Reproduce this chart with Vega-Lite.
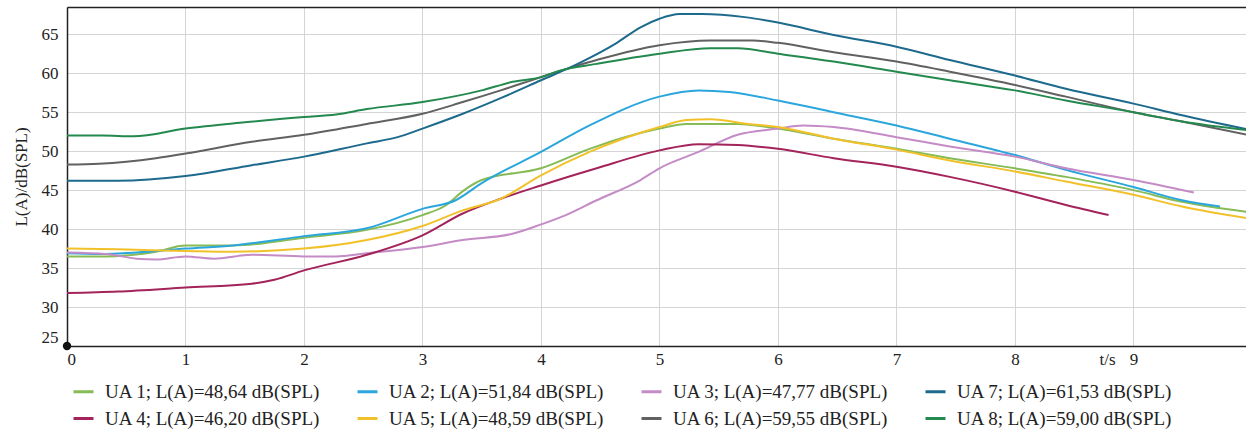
{
  "$schema": "https://vega.github.io/schema/vega-lite/v6.json",
  "autosize": "none",
  "padding": {"left": 67, "top": 7, "right": 0, "bottom": 90},
  "width": 1179,
  "height": 339,
  "background": "white",
  "config": {
    "view": {"stroke": null},
    "font": "Liberation Serif",
    "axis": {"labelFont": "Liberation Serif", "titleFont": "Liberation Serif", "labelFontSize": 17, "titleFontSize": 17, "titleFontWeight": "normal", "labelColor": "#222", "titleColor": "#222", "gridColor": "#d4d4d4", "gridWidth": 1, "domainColor": "#222", "domainWidth": 1.5, "ticks": false},
    "legend": {"labelFont": "Liberation Serif", "labelFontSize": 19, "labelColor": "#222", "labelLimit": 400}
  },
  "datasets": {
    "curves": [
      {"s": "UA 1; L(A)=48,64 dB(SPL)", "t": 0, "L": 36.5}, {"s": "UA 1; L(A)=48,64 dB(SPL)", "t": 0.33, "L": 36.5}, {"s": "UA 1; L(A)=48,64 dB(SPL)", "t": 0.75, "L": 37.1}, {"s": "UA 1; L(A)=48,64 dB(SPL)", "t": 1.0, "L": 37.9}, {"s": "UA 1; L(A)=48,64 dB(SPL)", "t": 1.4, "L": 37.9}, {"s": "UA 1; L(A)=48,64 dB(SPL)", "t": 2.0, "L": 38.9}, {"s": "UA 1; L(A)=48,64 dB(SPL)", "t": 2.53, "L": 39.9}, {"s": "UA 1; L(A)=48,64 dB(SPL)", "t": 3.0, "L": 41.8}, {"s": "UA 1; L(A)=48,64 dB(SPL)", "t": 3.18, "L": 42.9}, {"s": "UA 1; L(A)=48,64 dB(SPL)", "t": 3.37, "L": 45.2}, {"s": "UA 1; L(A)=48,64 dB(SPL)", "t": 3.5, "L": 46.3}, {"s": "UA 1; L(A)=48,64 dB(SPL)", "t": 4.0, "L": 47.8}, {"s": "UA 1; L(A)=48,64 dB(SPL)", "t": 4.41, "L": 50.3}, {"s": "UA 1; L(A)=48,64 dB(SPL)", "t": 5.0, "L": 52.9}, {"s": "UA 1; L(A)=48,64 dB(SPL)", "t": 5.23, "L": 53.5}, {"s": "UA 1; L(A)=48,64 dB(SPL)", "t": 5.66, "L": 53.5}, {"s": "UA 1; L(A)=48,64 dB(SPL)", "t": 6.0, "L": 52.9}, {"s": "UA 1; L(A)=48,64 dB(SPL)", "t": 6.47, "L": 51.6}, {"s": "UA 1; L(A)=48,64 dB(SPL)", "t": 7.0, "L": 50.3}, {"s": "UA 1; L(A)=48,64 dB(SPL)", "t": 7.45, "L": 49.1}, {"s": "UA 1; L(A)=48,64 dB(SPL)", "t": 8.0, "L": 47.8}, {"s": "UA 1; L(A)=48,64 dB(SPL)", "t": 8.43, "L": 46.7}, {"s": "UA 1; L(A)=48,64 dB(SPL)", "t": 9.0, "L": 45.0}, {"s": "UA 1; L(A)=48,64 dB(SPL)", "t": 9.41, "L": 43.5}, {"s": "UA 1; L(A)=48,64 dB(SPL)", "t": 9.96, "L": 42.2},

      {"s": "UA 2; L(A)=51,84 dB(SPL)", "t": 0, "L": 36.9}, {"s": "UA 2; L(A)=51,84 dB(SPL)", "t": 0.27, "L": 36.8}, {"s": "UA 2; L(A)=51,84 dB(SPL)", "t": 0.59, "L": 37.0}, {"s": "UA 2; L(A)=51,84 dB(SPL)", "t": 1.0, "L": 37.5}, {"s": "UA 2; L(A)=51,84 dB(SPL)", "t": 1.4, "L": 37.9}, {"s": "UA 2; L(A)=51,84 dB(SPL)", "t": 2.0, "L": 39.1}, {"s": "UA 2; L(A)=51,84 dB(SPL)", "t": 2.53, "L": 40.1}, {"s": "UA 2; L(A)=51,84 dB(SPL)", "t": 3.0, "L": 42.6}, {"s": "UA 2; L(A)=51,84 dB(SPL)", "t": 3.28, "L": 43.7}, {"s": "UA 2; L(A)=51,84 dB(SPL)", "t": 3.5, "L": 45.9}, {"s": "UA 2; L(A)=51,84 dB(SPL)", "t": 4.0, "L": 49.9}, {"s": "UA 2; L(A)=51,84 dB(SPL)", "t": 4.41, "L": 53.3}, {"s": "UA 2; L(A)=51,84 dB(SPL)", "t": 5.0, "L": 57.0}, {"s": "UA 2; L(A)=51,84 dB(SPL)", "t": 5.33, "L": 57.8}, {"s": "UA 2; L(A)=51,84 dB(SPL)", "t": 5.59, "L": 57.6}, {"s": "UA 2; L(A)=51,84 dB(SPL)", "t": 6.0, "L": 56.5}, {"s": "UA 2; L(A)=51,84 dB(SPL)", "t": 6.47, "L": 55.0}, {"s": "UA 2; L(A)=51,84 dB(SPL)", "t": 7.0, "L": 53.3}, {"s": "UA 2; L(A)=51,84 dB(SPL)", "t": 7.45, "L": 51.6}, {"s": "UA 2; L(A)=51,84 dB(SPL)", "t": 8.0, "L": 49.5}, {"s": "UA 2; L(A)=51,84 dB(SPL)", "t": 8.43, "L": 47.6}, {"s": "UA 2; L(A)=51,84 dB(SPL)", "t": 9.0, "L": 45.4}, {"s": "UA 2; L(A)=51,84 dB(SPL)", "t": 9.41, "L": 43.7}, {"s": "UA 2; L(A)=51,84 dB(SPL)", "t": 9.73, "L": 42.9},

      {"s": "UA 3; L(A)=47,77 dB(SPL)", "t": 0, "L": 37.0}, {"s": "UA 3; L(A)=47,77 dB(SPL)", "t": 0.33, "L": 36.8}, {"s": "UA 3; L(A)=47,77 dB(SPL)", "t": 0.59, "L": 36.2}, {"s": "UA 3; L(A)=47,77 dB(SPL)", "t": 0.75, "L": 36.1}, {"s": "UA 3; L(A)=47,77 dB(SPL)", "t": 1.0, "L": 36.5}, {"s": "UA 3; L(A)=47,77 dB(SPL)", "t": 1.24, "L": 36.2}, {"s": "UA 3; L(A)=47,77 dB(SPL)", "t": 1.56, "L": 36.7}, {"s": "UA 3; L(A)=47,77 dB(SPL)", "t": 2.0, "L": 36.5}, {"s": "UA 3; L(A)=47,77 dB(SPL)", "t": 2.27, "L": 36.5}, {"s": "UA 3; L(A)=47,77 dB(SPL)", "t": 2.53, "L": 36.9}, {"s": "UA 3; L(A)=47,77 dB(SPL)", "t": 3.0, "L": 37.7}, {"s": "UA 3; L(A)=47,77 dB(SPL)", "t": 3.34, "L": 38.6}, {"s": "UA 3; L(A)=47,77 dB(SPL)", "t": 3.76, "L": 39.4}, {"s": "UA 3; L(A)=47,77 dB(SPL)", "t": 4.0, "L": 40.6}, {"s": "UA 3; L(A)=47,77 dB(SPL)", "t": 4.21, "L": 41.8}, {"s": "UA 3; L(A)=47,77 dB(SPL)", "t": 4.47, "L": 43.7}, {"s": "UA 3; L(A)=47,77 dB(SPL)", "t": 4.84, "L": 46.3}, {"s": "UA 3; L(A)=47,77 dB(SPL)", "t": 5.0, "L": 47.8}, {"s": "UA 3; L(A)=47,77 dB(SPL)", "t": 5.33, "L": 49.9}, {"s": "UA 3; L(A)=47,77 dB(SPL)", "t": 5.66, "L": 52.1}, {"s": "UA 3; L(A)=47,77 dB(SPL)", "t": 6.0, "L": 52.9}, {"s": "UA 3; L(A)=47,77 dB(SPL)", "t": 6.21, "L": 53.3}, {"s": "UA 3; L(A)=47,77 dB(SPL)", "t": 6.47, "L": 53.1}, {"s": "UA 3; L(A)=47,77 dB(SPL)", "t": 7.0, "L": 51.8}, {"s": "UA 3; L(A)=47,77 dB(SPL)", "t": 7.45, "L": 50.6}, {"s": "UA 3; L(A)=47,77 dB(SPL)", "t": 8.0, "L": 49.3}, {"s": "UA 3; L(A)=47,77 dB(SPL)", "t": 8.43, "L": 47.8}, {"s": "UA 3; L(A)=47,77 dB(SPL)", "t": 9.0, "L": 46.3}, {"s": "UA 3; L(A)=47,77 dB(SPL)", "t": 9.51, "L": 44.7},

      {"s": "UA 4; L(A)=46,20 dB(SPL)", "t": 0, "L": 31.8}, {"s": "UA 4; L(A)=46,20 dB(SPL)", "t": 0.43, "L": 32.0}, {"s": "UA 4; L(A)=46,20 dB(SPL)", "t": 1.0, "L": 32.5}, {"s": "UA 4; L(A)=46,20 dB(SPL)", "t": 1.56, "L": 33.0}, {"s": "UA 4; L(A)=46,20 dB(SPL)", "t": 1.75, "L": 33.5}, {"s": "UA 4; L(A)=46,20 dB(SPL)", "t": 2.0, "L": 34.7}, {"s": "UA 4; L(A)=46,20 dB(SPL)", "t": 2.53, "L": 36.7}, {"s": "UA 4; L(A)=46,20 dB(SPL)", "t": 3.0, "L": 39.2}, {"s": "UA 4; L(A)=46,20 dB(SPL)", "t": 3.34, "L": 42.0}, {"s": "UA 4; L(A)=46,20 dB(SPL)", "t": 3.66, "L": 43.9}, {"s": "UA 4; L(A)=46,20 dB(SPL)", "t": 4.0, "L": 45.6}, {"s": "UA 4; L(A)=46,20 dB(SPL)", "t": 4.47, "L": 47.8}, {"s": "UA 4; L(A)=46,20 dB(SPL)", "t": 5.0, "L": 50.1}, {"s": "UA 4; L(A)=46,20 dB(SPL)", "t": 5.33, "L": 50.9}, {"s": "UA 4; L(A)=46,20 dB(SPL)", "t": 5.66, "L": 50.8}, {"s": "UA 4; L(A)=46,20 dB(SPL)", "t": 6.0, "L": 50.3}, {"s": "UA 4; L(A)=46,20 dB(SPL)", "t": 6.47, "L": 49.1}, {"s": "UA 4; L(A)=46,20 dB(SPL)", "t": 7.0, "L": 48.0}, {"s": "UA 4; L(A)=46,20 dB(SPL)", "t": 7.45, "L": 46.7}, {"s": "UA 4; L(A)=46,20 dB(SPL)", "t": 8.0, "L": 44.8}, {"s": "UA 4; L(A)=46,20 dB(SPL)", "t": 8.43, "L": 43.1}, {"s": "UA 4; L(A)=46,20 dB(SPL)", "t": 8.79, "L": 41.8},

      {"s": "UA 5; L(A)=48,59 dB(SPL)", "t": 0, "L": 37.5}, {"s": "UA 5; L(A)=48,59 dB(SPL)", "t": 0.43, "L": 37.4}, {"s": "UA 5; L(A)=48,59 dB(SPL)", "t": 1.0, "L": 37.2}, {"s": "UA 5; L(A)=48,59 dB(SPL)", "t": 1.4, "L": 37.1}, {"s": "UA 5; L(A)=48,59 dB(SPL)", "t": 2.0, "L": 37.5}, {"s": "UA 5; L(A)=48,59 dB(SPL)", "t": 2.53, "L": 38.6}, {"s": "UA 5; L(A)=48,59 dB(SPL)", "t": 3.0, "L": 40.4}, {"s": "UA 5; L(A)=48,59 dB(SPL)", "t": 3.34, "L": 42.4}, {"s": "UA 5; L(A)=48,59 dB(SPL)", "t": 3.66, "L": 43.9}, {"s": "UA 5; L(A)=48,59 dB(SPL)", "t": 4.0, "L": 46.9}, {"s": "UA 5; L(A)=48,59 dB(SPL)", "t": 4.41, "L": 49.9}, {"s": "UA 5; L(A)=48,59 dB(SPL)", "t": 5.0, "L": 53.1}, {"s": "UA 5; L(A)=48,59 dB(SPL)", "t": 5.23, "L": 54.0}, {"s": "UA 5; L(A)=48,59 dB(SPL)", "t": 5.43, "L": 54.1}, {"s": "UA 5; L(A)=48,59 dB(SPL)", "t": 5.75, "L": 53.5}, {"s": "UA 5; L(A)=48,59 dB(SPL)", "t": 6.0, "L": 53.1}, {"s": "UA 5; L(A)=48,59 dB(SPL)", "t": 6.47, "L": 51.6}, {"s": "UA 5; L(A)=48,59 dB(SPL)", "t": 7.0, "L": 50.2}, {"s": "UA 5; L(A)=48,59 dB(SPL)", "t": 7.45, "L": 48.8}, {"s": "UA 5; L(A)=48,59 dB(SPL)", "t": 8.0, "L": 47.4}, {"s": "UA 5; L(A)=48,59 dB(SPL)", "t": 8.43, "L": 46.1}, {"s": "UA 5; L(A)=48,59 dB(SPL)", "t": 9.0, "L": 44.4}, {"s": "UA 5; L(A)=48,59 dB(SPL)", "t": 9.41, "L": 42.9}, {"s": "UA 5; L(A)=48,59 dB(SPL)", "t": 9.96, "L": 41.4},

      {"s": "UA 6; L(A)=59,55 dB(SPL)", "t": 0, "L": 48.3}, {"s": "UA 6; L(A)=59,55 dB(SPL)", "t": 0.27, "L": 48.4}, {"s": "UA 6; L(A)=59,55 dB(SPL)", "t": 0.75, "L": 49.1}, {"s": "UA 6; L(A)=59,55 dB(SPL)", "t": 1.0, "L": 49.7}, {"s": "UA 6; L(A)=59,55 dB(SPL)", "t": 1.56, "L": 51.2}, {"s": "UA 6; L(A)=59,55 dB(SPL)", "t": 2.0, "L": 52.1}, {"s": "UA 6; L(A)=59,55 dB(SPL)", "t": 2.53, "L": 53.5}, {"s": "UA 6; L(A)=59,55 dB(SPL)", "t": 3.0, "L": 54.8}, {"s": "UA 6; L(A)=59,55 dB(SPL)", "t": 3.34, "L": 56.3}, {"s": "UA 6; L(A)=59,55 dB(SPL)", "t": 3.66, "L": 57.8}, {"s": "UA 6; L(A)=59,55 dB(SPL)", "t": 4.0, "L": 59.5}, {"s": "UA 6; L(A)=59,55 dB(SPL)", "t": 4.47, "L": 61.7}, {"s": "UA 6; L(A)=59,55 dB(SPL)", "t": 5.0, "L": 63.6}, {"s": "UA 6; L(A)=59,55 dB(SPL)", "t": 5.43, "L": 64.2}, {"s": "UA 6; L(A)=59,55 dB(SPL)", "t": 5.79, "L": 64.2}, {"s": "UA 6; L(A)=59,55 dB(SPL)", "t": 6.0, "L": 63.9}, {"s": "UA 6; L(A)=59,55 dB(SPL)", "t": 6.47, "L": 62.7}, {"s": "UA 6; L(A)=59,55 dB(SPL)", "t": 7.0, "L": 61.5}, {"s": "UA 6; L(A)=59,55 dB(SPL)", "t": 7.45, "L": 60.2}, {"s": "UA 6; L(A)=59,55 dB(SPL)", "t": 8.0, "L": 58.5}, {"s": "UA 6; L(A)=59,55 dB(SPL)", "t": 8.43, "L": 57.0}, {"s": "UA 6; L(A)=59,55 dB(SPL)", "t": 9.0, "L": 55.0}, {"s": "UA 6; L(A)=59,55 dB(SPL)", "t": 9.41, "L": 53.8}, {"s": "UA 6; L(A)=59,55 dB(SPL)", "t": 9.96, "L": 52.1},

      {"s": "UA 7; L(A)=61,53 dB(SPL)", "t": 0, "L": 46.2}, {"s": "UA 7; L(A)=61,53 dB(SPL)", "t": 0.43, "L": 46.2}, {"s": "UA 7; L(A)=61,53 dB(SPL)", "t": 1.0, "L": 46.8}, {"s": "UA 7; L(A)=61,53 dB(SPL)", "t": 1.56, "L": 48.2}, {"s": "UA 7; L(A)=61,53 dB(SPL)", "t": 2.0, "L": 49.3}, {"s": "UA 7; L(A)=61,53 dB(SPL)", "t": 2.53, "L": 51.0}, {"s": "UA 7; L(A)=61,53 dB(SPL)", "t": 2.79, "L": 51.8}, {"s": "UA 7; L(A)=61,53 dB(SPL)", "t": 3.0, "L": 52.9}, {"s": "UA 7; L(A)=61,53 dB(SPL)", "t": 3.34, "L": 54.8}, {"s": "UA 7; L(A)=61,53 dB(SPL)", "t": 3.66, "L": 56.8}, {"s": "UA 7; L(A)=61,53 dB(SPL)", "t": 4.0, "L": 59.1}, {"s": "UA 7; L(A)=61,53 dB(SPL)", "t": 4.31, "L": 61.2}, {"s": "UA 7; L(A)=61,53 dB(SPL)", "t": 4.63, "L": 63.8}, {"s": "UA 7; L(A)=61,53 dB(SPL)", "t": 4.84, "L": 65.9}, {"s": "UA 7; L(A)=61,53 dB(SPL)", "t": 5.0, "L": 67.0}, {"s": "UA 7; L(A)=61,53 dB(SPL)", "t": 5.17, "L": 67.6}, {"s": "UA 7; L(A)=61,53 dB(SPL)", "t": 5.36, "L": 67.6}, {"s": "UA 7; L(A)=61,53 dB(SPL)", "t": 5.72, "L": 67.2}, {"s": "UA 7; L(A)=61,53 dB(SPL)", "t": 6.0, "L": 66.5}, {"s": "UA 7; L(A)=61,53 dB(SPL)", "t": 6.47, "L": 64.9}, {"s": "UA 7; L(A)=61,53 dB(SPL)", "t": 7.0, "L": 63.4}, {"s": "UA 7; L(A)=61,53 dB(SPL)", "t": 7.45, "L": 61.7}, {"s": "UA 7; L(A)=61,53 dB(SPL)", "t": 8.0, "L": 59.7}, {"s": "UA 7; L(A)=61,53 dB(SPL)", "t": 8.43, "L": 58.0}, {"s": "UA 7; L(A)=61,53 dB(SPL)", "t": 9.0, "L": 56.1}, {"s": "UA 7; L(A)=61,53 dB(SPL)", "t": 9.41, "L": 54.6}, {"s": "UA 7; L(A)=61,53 dB(SPL)", "t": 9.96, "L": 52.8},

      {"s": "UA 8; L(A)=59,00 dB(SPL)", "t": 0, "L": 52.0}, {"s": "UA 8; L(A)=59,00 dB(SPL)", "t": 0.3, "L": 52.0}, {"s": "UA 8; L(A)=59,00 dB(SPL)", "t": 0.56, "L": 51.9}, {"s": "UA 8; L(A)=59,00 dB(SPL)", "t": 1.0, "L": 52.9}, {"s": "UA 8; L(A)=59,00 dB(SPL)", "t": 1.5, "L": 53.7}, {"s": "UA 8; L(A)=59,00 dB(SPL)", "t": 2.0, "L": 54.4}, {"s": "UA 8; L(A)=59,00 dB(SPL)", "t": 2.27, "L": 54.7}, {"s": "UA 8; L(A)=59,00 dB(SPL)", "t": 2.53, "L": 55.4}, {"s": "UA 8; L(A)=59,00 dB(SPL)", "t": 3.0, "L": 56.3}, {"s": "UA 8; L(A)=59,00 dB(SPL)", "t": 3.5, "L": 57.8}, {"s": "UA 8; L(A)=59,00 dB(SPL)", "t": 3.76, "L": 58.9}, {"s": "UA 8; L(A)=59,00 dB(SPL)", "t": 4.0, "L": 59.5}, {"s": "UA 8; L(A)=59,00 dB(SPL)", "t": 4.15, "L": 60.3}, {"s": "UA 8; L(A)=59,00 dB(SPL)", "t": 4.47, "L": 61.2}, {"s": "UA 8; L(A)=59,00 dB(SPL)", "t": 5.0, "L": 62.5}, {"s": "UA 8; L(A)=59,00 dB(SPL)", "t": 5.43, "L": 63.2}, {"s": "UA 8; L(A)=59,00 dB(SPL)", "t": 5.66, "L": 63.2}, {"s": "UA 8; L(A)=59,00 dB(SPL)", "t": 6.0, "L": 62.5}, {"s": "UA 8; L(A)=59,00 dB(SPL)", "t": 6.47, "L": 61.5}, {"s": "UA 8; L(A)=59,00 dB(SPL)", "t": 7.0, "L": 60.2}, {"s": "UA 8; L(A)=59,00 dB(SPL)", "t": 7.45, "L": 59.1}, {"s": "UA 8; L(A)=59,00 dB(SPL)", "t": 8.0, "L": 57.8}, {"s": "UA 8; L(A)=59,00 dB(SPL)", "t": 8.43, "L": 56.5}, {"s": "UA 8; L(A)=59,00 dB(SPL)", "t": 9.0, "L": 55.0}, {"s": "UA 8; L(A)=59,00 dB(SPL)", "t": 9.41, "L": 53.8}, {"s": "UA 8; L(A)=59,00 dB(SPL)", "t": 9.96, "L": 52.7}
    ],
    "origin": [{"t": 0, "L": 25}]
  },
  "layer": [
    {
      "data": {"name": "curves"},
      "mark": {"type": "line", "strokeWidth": 2, "interpolate": "monotone", "clip": true},
      "encoding": {
        "x": {"field": "t", "type": "quantitative", "scale": {"domain": [0, 9.95], "nice": false, "zero": false},
              "axis": {"values": [0,1,2,3,4,5,6,7,8,9], "labelFlush": true, "labelPadding": 5, "grid": true, "title": "t/s", "titleX": 1040, "titleY": 5, "titleBaseline": "top", "titleAlign": "center"}},
        "y": {"field": "L", "type": "quantitative", "scale": {"domain": [25, 68.5], "nice": false, "zero": false},
              "axis": {"values": [25,30,35,40,45,50,55,60,65], "labelFlush": true, "labelPadding": 9, "grid": true, "title": "L(A)/dB(SPL)", "titlePadding": 11}},
        "color": {"field": "s", "type": "nominal",
                  "scale": {"domain": ["UA 1; L(A)=48,64 dB(SPL)", "UA 2; L(A)=51,84 dB(SPL)", "UA 3; L(A)=47,77 dB(SPL)", "UA 7; L(A)=61,53 dB(SPL)", "UA 4; L(A)=46,20 dB(SPL)", "UA 5; L(A)=48,59 dB(SPL)", "UA 6; L(A)=59,55 dB(SPL)", "UA 8; L(A)=59,00 dB(SPL)"],
                            "range": ["#86bb55", "#2ba6dc", "#c48bc6", "#1d6a8c", "#a3235a", "#f2c12a", "#616161", "#23894e"]},
                  "legend": {"title": null, "orient": "none", "legendX": 5, "legendY": 373, "direction": "horizontal", "columns": 4, "gridAlign": "all", "columnPadding": 30, "rowPadding": 5, "symbolType": "stroke", "symbolSize": 400, "symbolStrokeWidth": 3, "labelOffset": 10}}
      }
    },
    {
      "data": {"name": "origin"},
      "mark": {"type": "point", "filled": true, "color": "#111", "size": 70, "opacity": 1, "clip": false},
      "encoding": {
        "x": {"field": "t", "type": "quantitative", "axis": {"orient": "top", "labels": false, "grid": false, "ticks": false, "title": null, "domainColor": "#222", "domainWidth": 1.5}},
        "y": {"field": "L", "type": "quantitative"}
      }
    }
  ],
  "resolve": {"axis": {"x": "independent"}}
}
